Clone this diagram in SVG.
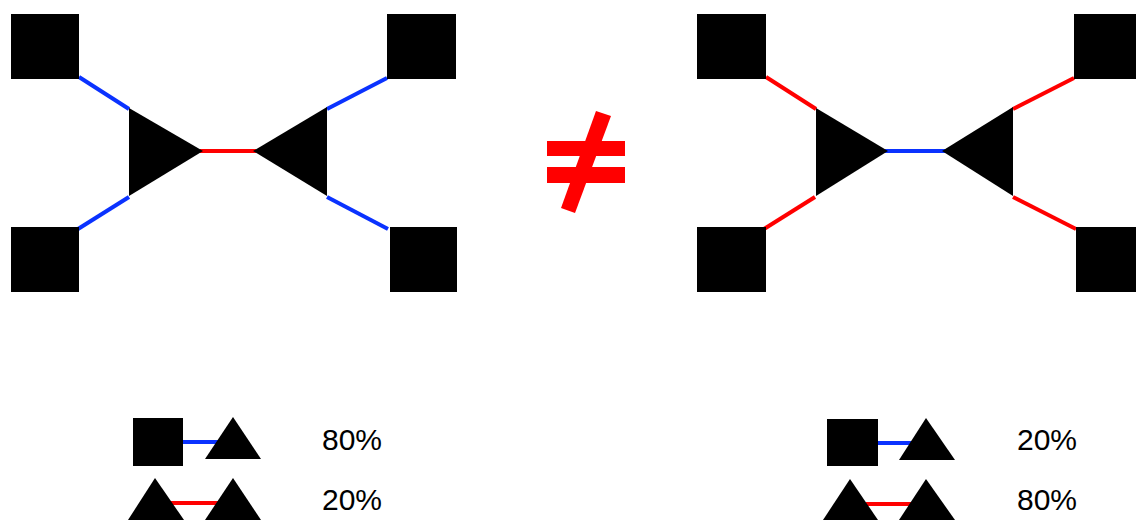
<svg xmlns="http://www.w3.org/2000/svg" width="1136" height="522" viewBox="0 0 1136 522">
<style>
.n{fill:#000}
.b{stroke:#0a32ff;stroke-width:4;fill:none}
.r{stroke:#ff0000;stroke-width:4;fill:none}
.t{font-family:"Liberation Sans",Arial,sans-serif;font-size:30px;fill:#000}
</style>
<rect width="1136" height="522" fill="#fff"/>
<g id="connectors">
<line class="b" x1="79" y1="77" x2="129" y2="109"/>
<line class="b" x1="78" y1="229" x2="129" y2="197"/>
<line class="b" x1="387" y1="78" x2="327" y2="109"/>
<line class="b" x1="388" y1="229" x2="327" y2="197"/>
<line class="r" x1="200" y1="151" x2="256" y2="151"/>
<line class="r" x1="766" y1="77" x2="816" y2="109"/>
<line class="r" x1="764" y1="229" x2="815" y2="197"/>
<line class="r" x1="1074" y1="78" x2="1013" y2="109"/>
<line class="r" x1="1076" y1="229" x2="1013" y2="197"/>
<line class="b" x1="885" y1="151" x2="945" y2="151"/>
<line class="b" x1="183" y1="442" x2="220" y2="442"/>
<line class="r" x1="168" y1="503" x2="220" y2="503"/>
<line class="b" x1="878" y1="443" x2="915" y2="443"/>
<line class="r" x1="866" y1="504" x2="915" y2="504"/>
</g>
<g id="left-sq-tl"><rect class="n" x="11" y="14" width="68" height="65"/></g>
<g id="left-sq-bl"><rect class="n" x="11" y="227" width="68" height="65"/></g>
<g id="left-sq-tr"><rect class="n" x="387" y="14" width="69" height="65"/></g>
<g id="left-sq-br"><rect class="n" x="390" y="227" width="67" height="65"/></g>
<g id="left-tri-l"><polygon class="n" points="129,108 129,196 203,151"/></g>
<g id="left-tri-r"><polygon class="n" points="327,107 327,196 253,151"/></g>
<g id="right-sq-tl"><rect class="n" x="697" y="14" width="69" height="65"/></g>
<g id="right-sq-bl"><rect class="n" x="697" y="227" width="69" height="65"/></g>
<g id="right-sq-tr"><rect class="n" x="1074" y="14" width="68" height="65"/></g>
<g id="right-sq-br"><rect class="n" x="1076" y="227" width="68" height="65"/></g>
<g id="right-tri-l"><polygon class="n" points="816,108 816,196 888,151"/></g>
<g id="right-tri-r"><polygon class="n" points="1013,107 1013,196 942,151"/></g>
<g id="not-equal" fill="#ff0000">
<rect x="547" y="141" width="78" height="15"/>
<rect x="547" y="167" width="78" height="16"/>
<polygon points="596,111 611,116 575,213 561,208"/>
</g>
<g id="legend-left">
<rect class="n" x="133" y="418" width="50" height="48"/>
<polygon class="n" points="233,417 205,459 261,459"/>
<polygon class="n" points="155,478 128,520 184,520"/>
<polygon class="n" points="233,478 205,520 261,520"/>
<text class="t" x="322" y="450">80%</text>
<text class="t" x="322" y="510">20%</text>
</g>
<g id="legend-right">
<rect class="n" x="827" y="419" width="51" height="47"/>
<polygon class="n" points="926,418 899,460 955,460"/>
<polygon class="n" points="850,479 823,520 878,520"/>
<polygon class="n" points="926,479 899,520 955,520"/>
<text class="t" x="1017" y="450">20%</text>
<text class="t" x="1017" y="510">80%</text>
</g>
</svg>
